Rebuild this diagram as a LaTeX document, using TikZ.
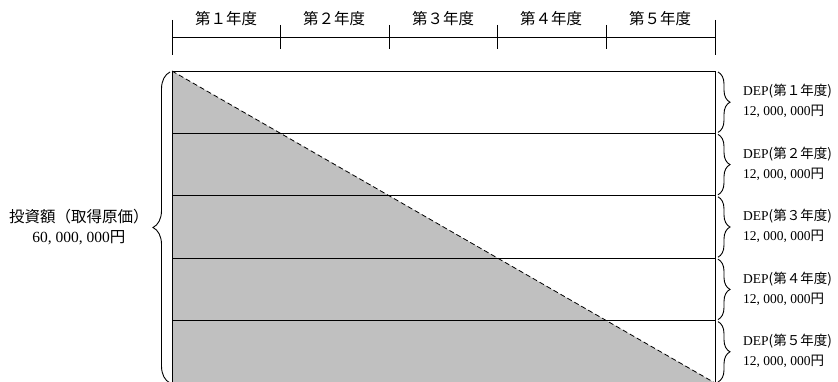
\documentclass[tikz,border=0pt]{standalone}
\usepackage{fontspec}
\setmainfont{Liberation Serif}
\newfontfamily\cjk{Noto Sans CJK JP}
\usetikzlibrary{decorations.pathreplacing}
\tikzset{
  rowbox/.style={draw=black, line width=0.9pt, minimum width=543pt, minimum height=62.4pt, inner sep=0pt, outer sep=0pt, anchor=north west},
  bracefine/.style={draw, line width=0.9pt, decorate, decoration={brace, amplitude=#1}},
  toplabel/.style={font=\cjk\fontsize{15.5}{16}\selectfont, inner sep=0pt},
  deplabel/.style={font=\fontsize{13.5}{20}\selectfont, align=left, anchor=west, inner sep=0pt},
  leftlabel/.style={font=\fontsize{15.5}{20}\selectfont, align=center, inner sep=0pt},
  tline/.style={line width=0.9pt},
}
\begin{document}
\begin{tikzpicture}[x=1pt, y=-1pt]
\useasboundingbox (0,0) rectangle (838,382);
% timeline
\coordinate (t0) at (172,37);
\coordinate (t5) at (715,37);
\draw[tline] (t0) -- (t5);
\draw[tline] (172,20) -- (172,55);
\draw[tline] (715,20) -- (715,55);
\foreach \x in {280,389,497,606} { \draw[tline] (\x,25) -- (\x,49); }
\node[toplabel] (y1) at (226,19) {第１年度};
\node[toplabel] (y2) at (334,19) {第２年度};
\node[toplabel] (y3) at (443,19) {第３年度};
\node[toplabel] (y4) at (551,19) {第４年度};
\node[toplabel] (y5) at (660,19) {第５年度};
% gray triangle
\coordinate (A) at (172,71);
\coordinate (B) at (715,383);
\coordinate (C) at (172,383);
\fill[fill={rgb,255:red,192;green,192;blue,192}] (A) -- (B) -- (C) -- cycle;
% rows
\foreach \i in {1,...,5} {
  \node[rowbox] (r\i) at (172,{71+(\i-1)*62.4}) {};
}
\draw[dash pattern=on 5pt off 3pt, line width=0.8pt] (A) -- (B);
% left brace
\draw[bracefine=17pt] ([xshift=-2pt]r5.south west) -- ([xshift=-2pt,yshift=-1pt]r1.north west) node[midway, left=21pt, leftlabel] (inv) {{\cjk 投資額（取得原価）}\\60, 000, 000{\cjk 円}};
% right braces and labels
\foreach \i in {1,...,5} {
  \draw[bracefine=12pt] ([xshift=3pt,yshift=-1pt]r\i.north east) -- ([xshift=3pt,yshift=1pt]r\i.south east)
    coordinate[midway] (m\i);
  \node[deplabel] (d\i) at ([xshift=25pt,yshift=1pt]m\i) {DEP{\cjk (第\ifcase\i\or １\or ２\or ３\or ４\or ５\fi 年度)}\\12, 000, 000{\cjk 円}};
}
\end{tikzpicture}
\end{document}
